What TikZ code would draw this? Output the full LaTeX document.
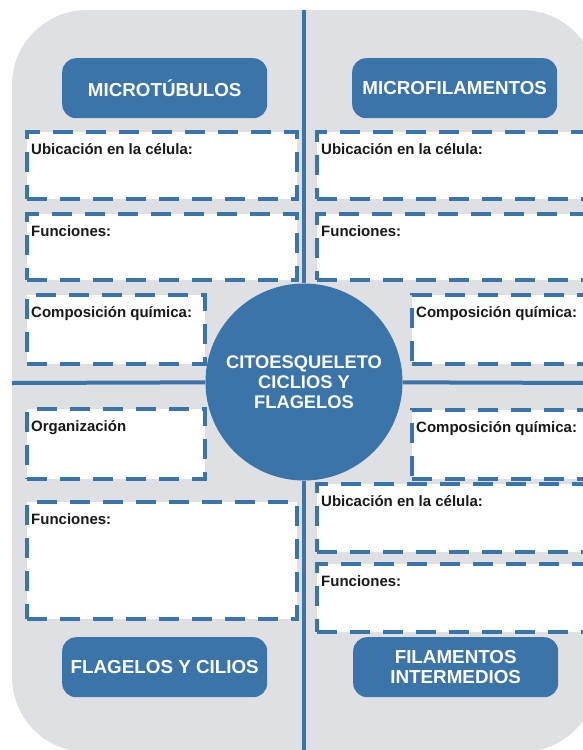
\documentclass[tikz,border=0pt]{standalone}
\usepackage{fontspec}
\setmainfont{Liberation Sans}
\usepackage{xcolor}
\usetikzlibrary{positioning}
\definecolor{cellblue}{HTML}{3A74A9}
\definecolor{cellgray}{HTML}{DFE0E3}

\begin{document}
\begin{tikzpicture}[x=1pt,y=-1pt,
  hdr/.style={rectangle,rounded corners=14pt,fill=cellblue,text=white,
              minimum width=205pt,minimum height=60pt,align=center,anchor=north west,
              font=\fontsize{18.8}{20}\selectfont\bfseries},
  dbox/.style={rectangle,fill=white,draw=cellblue,line width=3.8pt,
               dash pattern=on 20pt off 13pt,inner sep=0pt,anchor=north west},
  lbl/.style={inner sep=0pt,anchor=north west,text=black!90,
              font=\fontsize{15}{16}\selectfont\bfseries},
  hub/.style={circle,fill=cellblue,text=white,minimum size=197pt,align=center,
              font=\fontsize{18.3}{20}\selectfont\bfseries},
  divline/.style={cellblue,line width=4pt}
]
\useasboundingbox (0,0) rectangle (582,750);
\fill[cellgray,rounded corners=75pt] (12,10) rectangle (597,752);

% dividing lines and centre
\coordinate (vtop) at (304,10);
\coordinate (vbot) at (304,752);
\coordinate (hlft) at (12,383);
\coordinate (hrgt) at (597,383);
\node[hub] (cito) at (304,382) {CITOESQUELETO\\CICLIOS Y\\FLAGELOS};
\draw[divline] (vtop)--(cito); \draw[divline] (cito)--(vbot);
\draw[divline] (hlft)--(cito); \draw[divline] (cito)--(hrgt);

% headers
\node[hdr] (mthdr) at (62,58)  {MICROT\'UBULOS};
\node[hdr] (mfhdr) at (352,58) {MICROFILAMENTOS};
\node[hdr] (fchdr) at (62,637) {FLAGELOS Y CILIOS};
\node[hdr] (fihdr) at (353,637) {FILAMENTOS\\INTERMEDIOS};

% left column
\node[dbox,minimum width=270pt,minimum height=67pt]  (mtub)   at (25,130) {};
\node[dbox,minimum width=270pt,minimum height=66pt]  (mtfun)  at (25,212) {};
\node[dbox,minimum width=178pt,minimum height=69pt]  (mtcomp) at (25,293) {};
\node[dbox,minimum width=178pt,minimum height=70pt]  (fcorg)  at (25,407) {};
\node[dbox,minimum width=270pt,minimum height=117pt] (fcfun)  at (25,500) {};
% right column
\node[dbox,minimum width=285pt,minimum height=67pt]  (mfub)   at (315,130) {};
\node[dbox,minimum width=285pt,minimum height=66pt]  (mffun)  at (315,212) {};
\node[dbox,minimum width=190pt,minimum height=69pt]  (mfcomp) at (410,293) {};
\node[dbox,minimum width=190pt,minimum height=69pt]  (ficomp) at (410,408) {};
\node[dbox,minimum width=285pt,minimum height=68pt]  (fiub)   at (315,482) {};
\node[dbox,minimum width=285pt,minimum height=68pt]  (fifun)  at (315,562) {};

% labels
\node[lbl,below right=13pt and 6pt of mtub.north west]   {Ubicaci\'on en la c\'elula:};
\node[lbl,below right=13pt and 6pt of mtfun.north west]  {Funciones:};
\node[lbl,below right=13pt and 6pt of mtcomp.north west] {Composici\'on qu\'imica:};
\node[lbl,below right=13pt and 6pt of fcorg.north west]  {Organizaci\'on};
\node[lbl,below right=13pt and 6pt of fcfun.north west]  {Funciones:};
\node[lbl,below right=13pt and 6pt of mfub.north west]   {Ubicaci\'on en la c\'elula:};
\node[lbl,below right=13pt and 6pt of mffun.north west]  {Funciones:};
\node[lbl,below right=13pt and 6pt of mfcomp.north west] {Composici\'on qu\'imica:};
\node[lbl,below right=13pt and 6pt of ficomp.north west] {Composici\'on qu\'imica:};
\node[lbl,below right=13pt and 6pt of fiub.north west]   {Ubicaci\'on en la c\'elula:};
\node[lbl,below right=13pt and 6pt of fifun.north west]  {Funciones:};
\end{tikzpicture}
\end{document}
